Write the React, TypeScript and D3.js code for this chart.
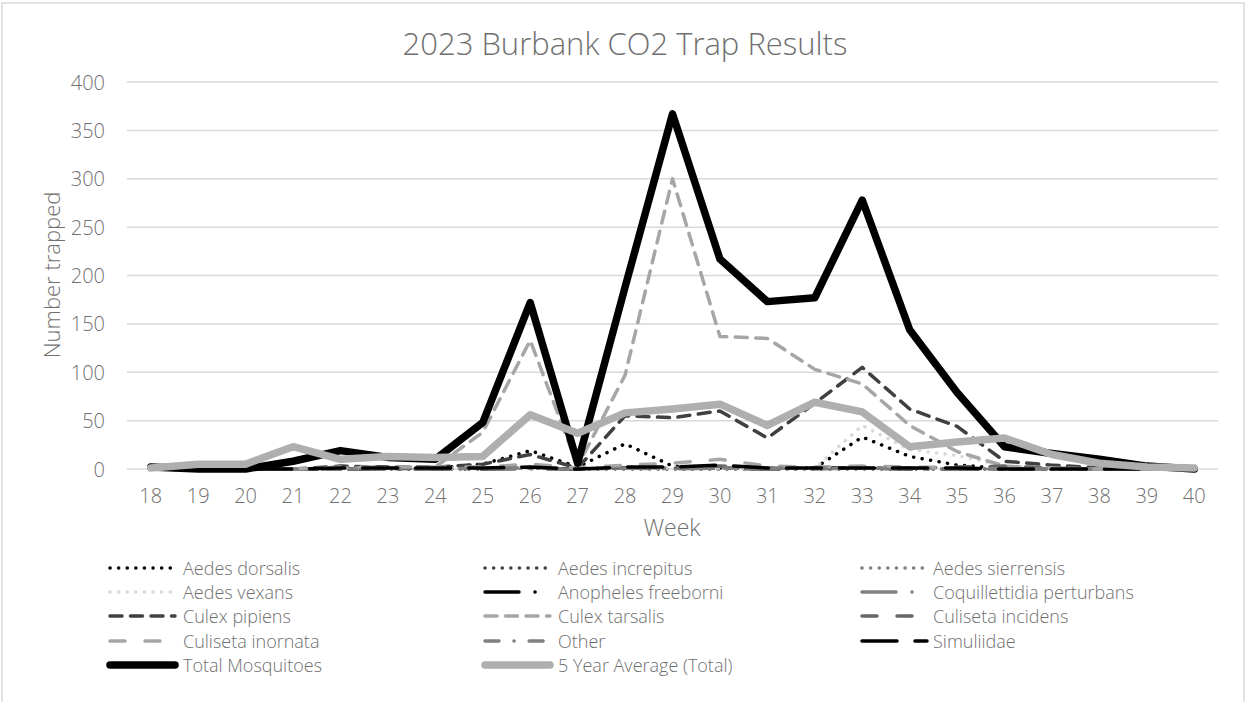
import React from "react";
import * as d3 from "d3";

const weeks = ["18","19","20","21","22","23","24","25","26","27","28","29","30","31","32","33","34","35","36","37","38","39","40"];
const yTicks = [0, 50, 100, 150, 200, 250, 300, 350, 400];

const aedesDorsalis = [0,0,0,0,1,1,1,5,19,2,26,3,1,1,1,33,13,4,1,0,0,0,0];
const aedesIncrepitus = [0,0,0,0,0,0,0,0,1,0,0,0,0,0,0,0,0,0,0,0,0,0,0];
const aedesSierrensis = [0,0,0,0,0,0,0,0,1,0,1,0,0,0,0,1,0,0,0,0,0,0,0];
const aedesVexans = [0,0,0,0,2,2,1,1,3,0,2,1,1,0,1,45,20,14,3,1,0,0,0];
const anophelesFreeborni = [0,0,0,0,0,0,0,0,1,0,1,1,1,0,1,1,0,0,0,0,0,0,0];
const coquillettidiaPerturbans = [0,0,0,0,0,0,0,0,0,0,1,0,1,0,0,1,0,0,0,0,0,0,0];
const culexPipiens = [0,0,0,0,3,2,2,5,15,1,55,53,60,32,68,105,62,44,8,4,1,0,0];
const culexTarsalis = [0,0,0,0,1,1,2,38,133,3,97,300,137,135,103,88,45,18,3,1,0,0,0];
const culisetaIncidens = [0,0,0,0,0,0,1,1,2,0,2,1,3,1,1,2,1,2,3,1,0,0,0];
const culisetaInornata = [0,0,0,0,2,2,2,2,5,1,4,6,10,3,2,3,2,1,0,0,0,0,0];
const other = [0,0,0,0,0,0,0,1,1,0,1,1,1,1,1,1,1,0,0,0,0,0,0];
const simuliidae = [0,0,0,0,1,1,1,1,2,0,2,2,4,1,1,1,1,1,0,0,0,0,0];
const totalMosquitoes = [2,0,0,8,19,12,10,48,172,6,188,367,217,173,177,278,144,79,23,16,10,3,0];
const fiveYearAverage = [1,5,5,23,10,13,12,13,56,37,58,62,67,45,69,59,23,28,32,15,6,2,1];

type S = { name: string; values: number[]; color: string; width: number; dash: string };

const series: S[] = [
  { name: "Aedes dorsalis", values: aedesDorsalis, color: "#000000", width: 3.5, dash: "0.1 8.5" },
  { name: "Aedes increpitus", values: aedesIncrepitus, color: "#404040", width: 3.5, dash: "0.1 8.5" },
  { name: "Aedes sierrensis", values: aedesSierrensis, color: "#7f7f7f", width: 3.5, dash: "0.1 8.5" },
  { name: "Aedes vexans", values: aedesVexans, color: "#d9d9d9", width: 3.5, dash: "0.1 8.5" },
  { name: "Anopheles freeborni", values: anophelesFreeborni, color: "#000000", width: 3.5, dash: "34 16 0.1 16" },
  { name: "Coquillettidia perturbans", values: coquillettidiaPerturbans, color: "#7f7f7f", width: 3.5, dash: "34 16 0.1 16" },
  { name: "Culex pipiens", values: culexPipiens, color: "#404040", width: 3.5, dash: "12 8.5" },
  { name: "Culex tarsalis", values: culexTarsalis, color: "#a6a6a6", width: 3.5, dash: "12 8.5" },
  { name: "Culiseta incidens", values: culisetaIncidens, color: "#666666", width: 3.5, dash: "15 20" },
  { name: "Culiseta inornata", values: culisetaInornata, color: "#a6a6a6", width: 3.5, dash: "15 20" },
  { name: "Other", values: other, color: "#7f7f7f", width: 3.5, dash: "14 15 0.1 15" },
  { name: "Simuliidae", values: simuliidae, color: "#000000", width: 3.5, dash: "35 18" },
  { name: "Total Mosquitoes", values: totalMosquitoes, color: "#000000", width: 7.5, dash: "" },
  { name: "5 Year Average (Total)", values: fiveYearAverage, color: "#afafaf", width: 7.5, dash: "" },
];

const FONT = "'Open Sans', 'DejaVu Sans', sans-serif";
const TEXT = "#707070";

export default function App() {
  const x = d3.scalePoint<string>().domain(weeks).range([127, 1218]).padding(0.5);
  const y = d3.scaleLinear().domain([0, 400]).range([469, 82]);
  const line = d3
    .line<number>()
    .x((_, i) => x(weeks[i]) as number)
    .y((v) => y(v));

  const legendCols = [110, 485, 862];
  const legendTextX = [183, 558, 933];
  const legendRows = [568, 592, 616, 641, 665];

  return (
    <svg
      width={1247}
      height={702}
      style={{ position: "absolute", left: 0, top: 0, background: "#fff" }}
      fontFamily={FONT}
    >
      <rect x={0} y={0} width={1247} height={702} fill="#ffffff" />
      <rect x={2} y={3} width={1242} height={710} fill="none" stroke="#d9d9d9" strokeWidth={1.5} />
      <text x={625} y={43} textAnchor="middle" dominantBaseline="central" fontSize={31} fontWeight={300} fill={TEXT}>
        2023 Burbank CO2 Trap Results
      </text>
      {yTicks.map((t) => (
        <g key={t}>
          <line x1={127} x2={1218} y1={y(t)} y2={y(t)} stroke="#d9d9d9" strokeWidth={1.5} />
          <text x={105} y={y(t)} textAnchor="end" dominantBaseline="central" fontSize={20} fontWeight={300} fill={TEXT}>
            {t}
          </text>
        </g>
      ))}
      {weeks.map((w) => (
        <text key={w} x={x(w)} y={495} textAnchor="middle" dominantBaseline="central" fontSize={20} fontWeight={300} fill={TEXT}>
          {w}
        </text>
      ))}
      <text x={672} y={527} textAnchor="middle" dominantBaseline="central" fontSize={23} fontWeight={300} fill={TEXT}>
        Week
      </text>
      <text
        transform={`translate(51,275) rotate(-90)`}
        textAnchor="middle"
        dominantBaseline="central"
        fontSize={22}
        fontWeight={300}
        fill={TEXT}
      >
        Number trapped
      </text>
      {series.map((s) => (
        <path
          key={s.name}
          d={line(s.values) || ""}
          fill="none"
          stroke={s.color}
          strokeWidth={s.width}
          strokeDasharray={s.dash || undefined}
          strokeLinecap="round"
          strokeLinejoin="round"
        />
      ))}
      {series.map((s, i) => {
        const col = i < 12 ? i % 3 : i - 12;
        const row = i < 12 ? Math.floor(i / 3) : 4;
        const ly = legendRows[row];
        return (
          <g key={"lg" + s.name}>
            <line
              x1={legendCols[col]}
              x2={legendCols[col] + 65}
              y1={ly}
              y2={ly}
              stroke={s.color}
              strokeWidth={s.width}
              strokeDasharray={s.dash || undefined}
              strokeLinecap="round"
            />
            <text x={legendTextX[col]} y={ly} dominantBaseline="central" fontSize={18} fontWeight={300} fill={TEXT}>
              {s.name}
            </text>
          </g>
        );
      })}
    </svg>
  );
}
